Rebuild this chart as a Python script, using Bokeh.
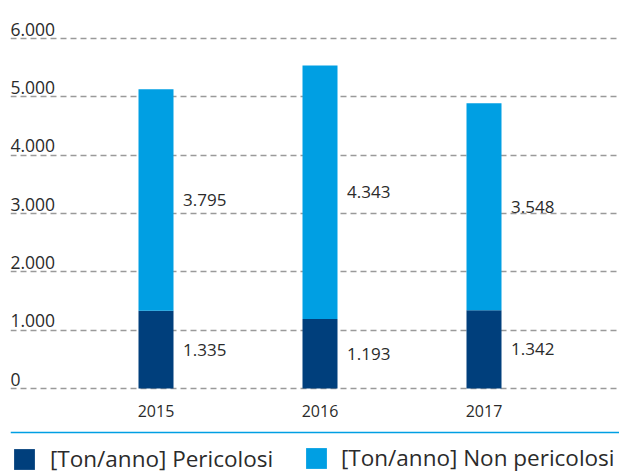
from bokeh.plotting import figure
from bokeh.models import (Range1d, FixedTicker, Label, Legend, LegendItem, Span)
from bokeh.embed import file_html
from bokeh.resources import INLINE

# ---- data ----
years = ["2015", "2016", "2017"]
pericolosi = [1335, 1193, 1342]
non_pericolosi = [3795, 4343, 3548]
y_ticks = [0, 1000, 2000, 3000, 4000, 5000, 6000]
series_names = ["[Ton/anno] Pericolosi", "[Ton/anno] Non pericolosi"]

DARK = "#003f7c"
LIGHT = "#009fe3"
TEXT = "#2b2b2b"
FONT = "Open Sans"

def fmt(v):
    return f"{v:,}".replace(",", ".")

W, H = 619, 475
LEFT = 10
FW = W - LEFT
px_x = 164.0            # pixels per category step
x0 = -(155.5 - LEFT) / px_x
px_y = 58.333 / 1000.0  # pixels per unit
y_top = 388 / px_y

p = figure(width=W, height=H, output_backend="svg", toolbar_location=None,
           x_range=Range1d(x0, x0 + FW / px_x),
           y_range=Range1d(y_top - H / px_y, y_top),
           min_border=0, min_border_left=LEFT, outline_line_color=None)
p.axis.visible = False
p.xgrid.visible = False
p.ygrid.ticker = FixedTicker(ticks=y_ticks)
p.ygrid.grid_line_color = "#9a9a9a"
p.ygrid.grid_line_width = 1.5
p.ygrid.grid_line_dash = "6 4"

xs = list(range(len(years)))
bw = 35 / px_x
tops = [a + b for a, b in zip(pericolosi, non_pericolosi)]
r1 = p.vbar(x=xs, bottom=0, top=pericolosi, width=bw, color=DARK, line_color=None)
r2 = p.vbar(x=xs, bottom=pericolosi, top=tops, width=bw, color=LIGHT, line_color=None)

# y tick labels (left aligned, above lines)
for t in y_ticks:
    p.add_layout(Label(x=0, x_units="screen", y=t, text=fmt(t), text_font=FONT,
                       text_font_size="17.5px", text_color=TEXT,
                       text_align="left", text_baseline="bottom", y_offset=3))

# value labels & year labels
for i, yr in enumerate(years):
    a, b = pericolosi[i], non_pericolosi[i]
    p.add_layout(Label(x=i, y=a / 2, text=fmt(a), x_offset=27, text_font=FONT,
                       text_font_size="17px", text_color=TEXT,
                       text_align="left", text_baseline="middle"))
    p.add_layout(Label(x=i, y=a + b / 2, text=fmt(b), x_offset=27, text_font=FONT,
                       text_font_size="17px", text_color=TEXT,
                       text_align="left", text_baseline="middle"))
    p.add_layout(Label(x=i, y=0, text=yr, y_offset=-22, text_font=FONT,
                       text_font_size="16px", text_color=TEXT,
                       text_align="center", text_baseline="middle"))

# separator line
p.add_layout(Span(location=-754, dimension="width", line_color=LIGHT, line_width=1.5))

# legends
for r, name, loc, so in [(r1, series_names[0], (1, 1), 13), (r2, series_names[1], (293, 2), 12)]:
    lg = Legend(items=[LegendItem(label=name, renderers=[r])], location=loc,
                orientation="horizontal", glyph_width=26, glyph_height=26,
                label_standoff=so, label_text_font=FONT, label_text_font_size="22.5px",
                label_text_color=TEXT, padding=0, margin=0, spacing=0,
                border_line_color=None, background_fill_alpha=0)
    p.add_layout(lg)

open("out.html", "w").write(file_html(p, INLINE))
